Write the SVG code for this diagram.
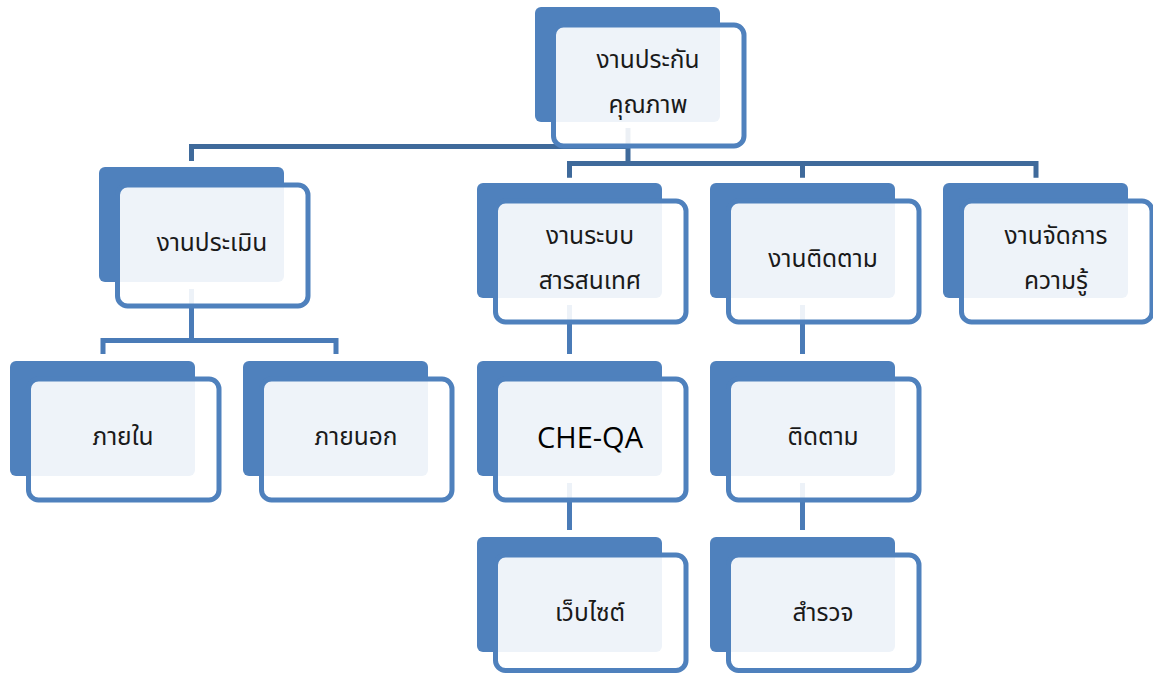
<svg xmlns="http://www.w3.org/2000/svg" width="1153" height="675" viewBox="0 0 1153 675">
<style>
.back{fill:#4F81BD}
.front{fill:#FFFFFF;fill-opacity:0.9;stroke:#4F81BD;stroke-width:5}
.c1{fill:none;stroke:#3F6A9B;stroke-width:5}
.c2{fill:none;stroke:#4A7BB7;stroke-width:5}
.t{font-family:"Noto Sans Thai","Loma","Garuda","Noto Sans","DejaVu Sans",sans-serif;font-size:24.5px;fill:#1a1a1a;text-anchor:middle}
.en{font-family:"Open Sans","Liberation Sans",sans-serif;font-size:29px;fill:#000;text-anchor:middle}
</style>
<g id="connectors">
<path class="c1" d="M628,128 V163.5 M191.5,161 V146.5 H628 M569.5,177.7 V163.5 H1036 V177.7 M802.5,163.5 V177.7"/>
<path class="c2" d="M191.5,289 V340.5 M103,354 V340.5 H336 V354 M569.5,305 V354 M569.5,483 V530 M802.5,305 V354 M802.5,483 V530"/>
</g>
<g id="n-top">
<rect class="back" x="535" y="7" width="185" height="115" rx="6"/>
<rect class="front" x="553.5" y="25" width="190.5" height="121" rx="10"/>
<text class="t" x="648" y="68">งานประกัน</text>
<text class="t" x="648" y="113">คุณภาพ</text>
</g>
<g id="n-eval">
<rect class="back" x="99" y="167" width="185" height="115" rx="6"/>
<rect class="front" x="117.5" y="185" width="190.5" height="121" rx="10"/>
<text class="t" x="212" y="251">งานประเมิน</text>
</g>
<g id="n-inside">
<rect class="back" x="10" y="361" width="185" height="115" rx="6"/>
<rect class="front" x="28.5" y="379" width="190.5" height="121" rx="10"/>
<text class="t" x="123" y="445">ภายใน</text>
</g>
<g id="n-outside">
<rect class="back" x="243" y="361" width="185" height="115" rx="6"/>
<rect class="front" x="261.5" y="379" width="190.5" height="121" rx="10"/>
<text class="t" x="356" y="445">ภายนอก</text>
</g>
<g id="n-info">
<rect class="back" x="477" y="183" width="185" height="115" rx="6"/>
<rect class="front" x="495.5" y="201" width="190.5" height="121" rx="10"/>
<text class="t" x="590" y="244">งานระบบ</text>
<text class="t" x="590" y="289">สารสนเทศ</text>
</g>
<g id="n-follow">
<rect class="back" x="710" y="183" width="185" height="115" rx="6"/>
<rect class="front" x="728.5" y="201" width="190.5" height="121" rx="10"/>
<text class="t" x="823" y="267">งานติดตาม</text>
</g>
<g id="n-km">
<rect class="back" x="943" y="183" width="185" height="115" rx="6"/>
<rect class="front" x="961.5" y="201" width="190.5" height="121" rx="10"/>
<text class="t" x="1056" y="244">งานจัดการ</text>
<text class="t" x="1056" y="289">ความรู้</text>
</g>
<g id="n-cheqa">
<rect class="back" x="477" y="361" width="185" height="115" rx="6"/>
<rect class="front" x="495.5" y="379" width="190.5" height="121" rx="10"/>
<text class="en" x="590" y="448">CHE-QA</text>
</g>
<g id="n-follow2">
<rect class="back" x="710" y="361" width="185" height="115" rx="6"/>
<rect class="front" x="728.5" y="379" width="190.5" height="121" rx="10"/>
<text class="t" x="823" y="445">ติดตาม</text>
</g>
<g id="n-web">
<rect class="back" x="477" y="537" width="185" height="115" rx="6"/>
<rect class="front" x="495.5" y="555" width="190.5" height="115.5" rx="10"/>
<text class="t" x="590" y="621">เว็บไซต์</text>
</g>
<g id="n-survey">
<rect class="back" x="710" y="537" width="185" height="115" rx="6"/>
<rect class="front" x="728.5" y="555" width="190.5" height="115.5" rx="10"/>
<text class="t" x="823" y="621">สำรวจ</text>
</g>
</svg>
